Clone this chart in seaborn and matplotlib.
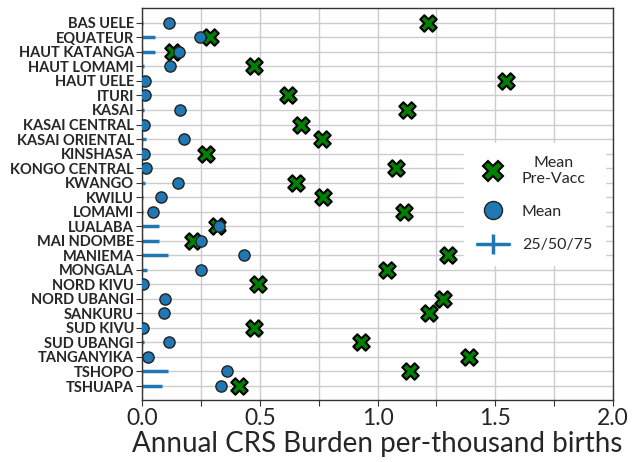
import numpy as np
import pandas as pd
import seaborn as sns
import matplotlib.pyplot as plt
from matplotlib.lines import Line2D

provinces = ["BAS UELE", "EQUATEUR", "HAUT KATANGA", "HAUT LOMAMI", "HAUT UELE",
             "ITURI", "KASAI", "KASAI CENTRAL", "KASAI ORIENTAL", "KINSHASA",
             "KONGO CENTRAL", "KWANGO", "KWILU", "LOMAMI", "LUALABA",
             "MAI NDOMBE", "MANIEMA", "MONGALA", "NORD KIVU", "NORD UBANGI",
             "SANKURU", "SUD KIVU", "SUD UBANGI", "TANGANYIKA", "TSHOPO", "TSHUAPA"]

mean_pre_vacc = [1.215, 0.29, 0.13, 0.476, 1.545, 0.62, 1.125, 0.675, 0.765, 0.272,
                 1.08, 0.655, 0.77, 1.113, 0.318, 0.216, 1.30, 1.04, 0.49, 1.28,
                 1.22, 0.473, 0.928, 1.39, 1.14, 0.41]

mean_post = [0.115, 0.245, 0.157, 0.118, 0.012, 0.01, 0.16, 0.007, 0.177, 0.007,
             0.014, 0.15, 0.078, 0.044, 0.327, 0.248, 0.433, 0.25, 0.005, 0.095,
             0.092, 0.005, 0.115, 0.026, 0.359, 0.333]

q25 = [0.0] * 26
q50 = [0.0] * 26
q75 = [0.004, 0.054, 0.054, 0.007, 0.0, 0.0, 0.007, 0.0, 0.016, 0.0,
       0.0, 0.011, 0.004, 0.004, 0.071, 0.071, 0.109, 0.019, 0.0, 0.0,
       0.0, 0.0, 0.006, 0.0, 0.109, 0.084]

df = pd.DataFrame({"province": provinces, "pre": mean_pre_vacc, "mean": mean_post,
                   "q25": q25, "q50": q50, "q75": q75})

sns.set_style("ticks")
plt.rcParams['font.family'] = ['Lato', 'DejaVu Sans']

fig = plt.figure(figsize=(6.35, 4.62), dpi=100)
ax = fig.add_axes([0.224, 0.134, 0.741, 0.849])

blue = "#1f77b4"
# quartile ranges and medians
ax.hlines(df["province"], df["q25"], df["q75"], color=blue, lw=2.5, zorder=2)
ax.plot(df["q50"], df["province"], ls="none", marker="|", color=blue, ms=8, mew=1.5, zorder=2)

sns.scatterplot(data=df, x="pre", y="province", marker="X", s=140, color="green",
                edgecolor="black", linewidth=1.5, ax=ax, zorder=3)
sns.scatterplot(data=df, x="mean", y="province", marker="o", s=65, color=blue,
                edgecolor="#222222", linewidth=1, ax=ax, zorder=4)

ax.set_xlim(0, 2.0)
ax.set_ylim(25.97, -1.03)
ax.set_xticks(np.arange(0, 2.01, 0.25))
ax.set_xticklabels(["0.0", "", "0.5", "", "1.0", "", "1.5", "", "2.0"], fontsize=16.5)
ax.set_yticks(range(len(provinces)))
ax.set_yticklabels(provinces, fontsize=10.5, fontweight="bold")
ax.grid(True, color="#cccccc", lw=1)
ax.set_axisbelow(True)
ax.set_xlabel("Annual CRS Burden per-thousand births", fontsize=20, labelpad=1)
ax.set_ylabel("")
for s in ax.spines.values():
    s.set_color("#333333")
    s.set_linewidth(1)
ax.tick_params(axis="both", length=4, color="#333333", pad=2)

handles = [
    Line2D([], [], ls="none", marker="X", ms=14, mfc="green", mec="black", mew=1.5),
    Line2D([], [], ls="none", marker="o", ms=13, mfc=blue, mec="#222222", mew=1),
    Line2D([], [], ls="-", marker="|", color=blue, lw=2.5, ms=14, mew=2.5),
]
leg = ax.legend(handles, ["Mean\nPre-Vacc", "Mean", "25/50/75"], loc="center right",
                fontsize=11.5, labelspacing=1.2, handlelength=2.0, frameon=True,
                framealpha=1, edgecolor="white", borderpad=0.8)
for t in leg.get_texts():
    t.set_multialignment("center")

fig.savefig("out.png", dpi=100)
